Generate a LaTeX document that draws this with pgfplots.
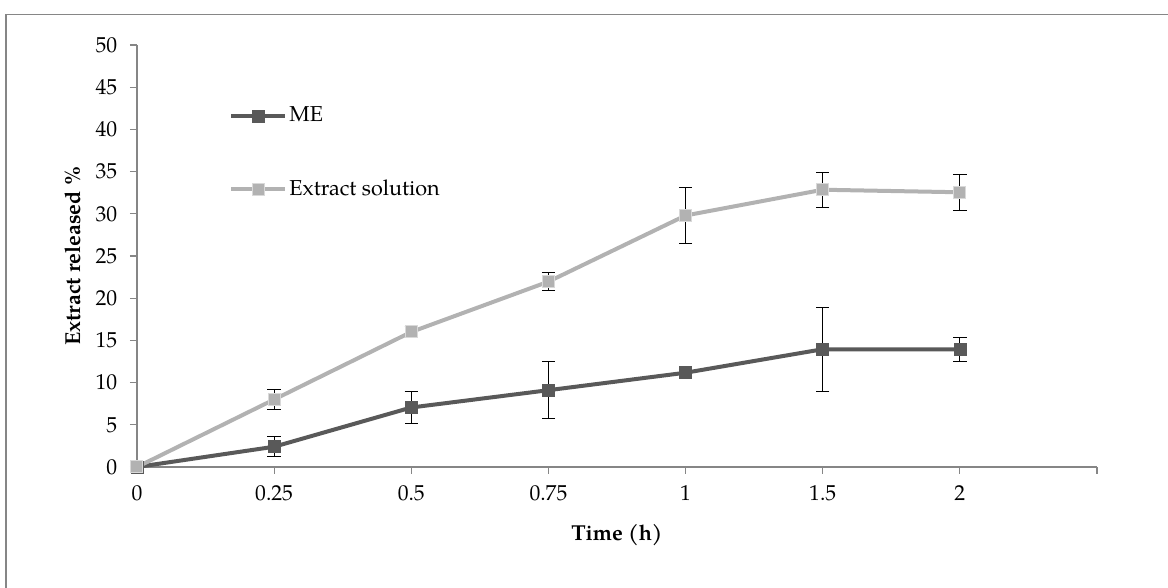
\documentclass[border=0pt]{standalone}
\usepackage{pgfplots}
\pgfplotsset{compat=1.18}
\usepackage{fontspec}
\setmainfont{TeX Gyre Pagella}
\definecolor{meC}{RGB}{89,89,89}
\definecolor{exC}{RGB}{178,178,178}
\definecolor{exB}{RGB}{217,217,217}
\definecolor{axC}{RGB}{134,134,134}
\begin{document}
\fontsize{16.2}{19}\selectfont
\begin{tikzpicture}
\useasboundingbox (0,0) rectangle (876pt,441pt);
\draw[color=axC, line width=1.1pt] (4.35pt,-2pt) -- (4.35pt,430.1pt) -- (880pt,430.1pt);
\begin{axis}[
  at={(102.75pt,90.75pt)}, anchor=south west,
  scale only axis, width=720pt, height=316.5pt,
  xmin=0, xmax=7, ymin=0, ymax=50,
  xtick={0,1,2,3,4,5,6,7},
  xticklabels={0,0.25,0.5,0.75,1,1.5,2,},
  ytick={0,5,...,50},
  axis x line*=bottom, axis y line*=left,
  axis line style={color=axC, line width=0.9pt, -},
  tick style={color=axC, line width=0.9pt},
  tick align=outside, major tick length=5.25pt,
  x tick label style={yshift=-3pt},
  y tick label style={xshift=-4pt},
  /pgf/number format/assume math mode=true,
  font=\fontsize{16.2}{19}\selectfont,
  xlabel={\textbf{Time (h)}},
  ylabel={\textbf{Extract released \%}},
  xlabel style={at={(rel axis cs:0.5,0)}, anchor=center, yshift=-51pt},
  ylabel style={at={(rel axis cs:0,0.5)}, anchor=center, yshift=48pt},
  clip=false,
  legend style={draw=none, fill=none, at={(rel axis cs:0.096,0.86)}, anchor=north west,
    inner sep=0pt, row sep=37pt, nodes={inner sep=2pt, anchor=west},
    font=\fontsize{16.2}{19}\selectfont},
  legend cell align=left,
  legend image code/.code={\draw[mark repeat=2,mark phase=2] plot coordinates {(0pt,0pt) (20pt,0pt) (40pt,0pt)};},
  error bars/error bar style={black, line width=0.75pt},
  error bars/error mark options={rotate=90, mark size=5pt, black, line width=0.75pt},
]
\addplot[color=meC, line width=3pt, mark=square*, mark size=4.5pt, mark options={fill=meC, draw=meC, line width=0.5pt},
  error bars/.cd, y dir=both, y explicit]
  coordinates {(0,0) +- (0,0) (1,2.4) +- (0,1.2) (2,7.05) +- (0,1.95) (3,9.1) +- (0,3.35) (4,11.17) +- (0,0.4) (5,13.95) +- (0,5.0) (6,13.95) +- (0,1.45)};
\addlegendentry{ME}
\addplot[color=exC, line width=3pt, mark=square*, mark size=4.5pt, mark options={fill=exC, draw=exB, line width=0.75pt},
  error bars/.cd, y dir=both, y explicit]
  coordinates {(0,0) +- (0,0) (1,8.0) +- (0,1.17) (2,16.0) +- (0,0.7) (3,21.96) +- (0,1.08) (4,29.8) +- (0,3.3) (5,32.85) +- (0,2.07) (6,32.55) +- (0,2.15)};
\addlegendentry{Extract solution}
\end{axis}
\end{tikzpicture}
\end{document}
